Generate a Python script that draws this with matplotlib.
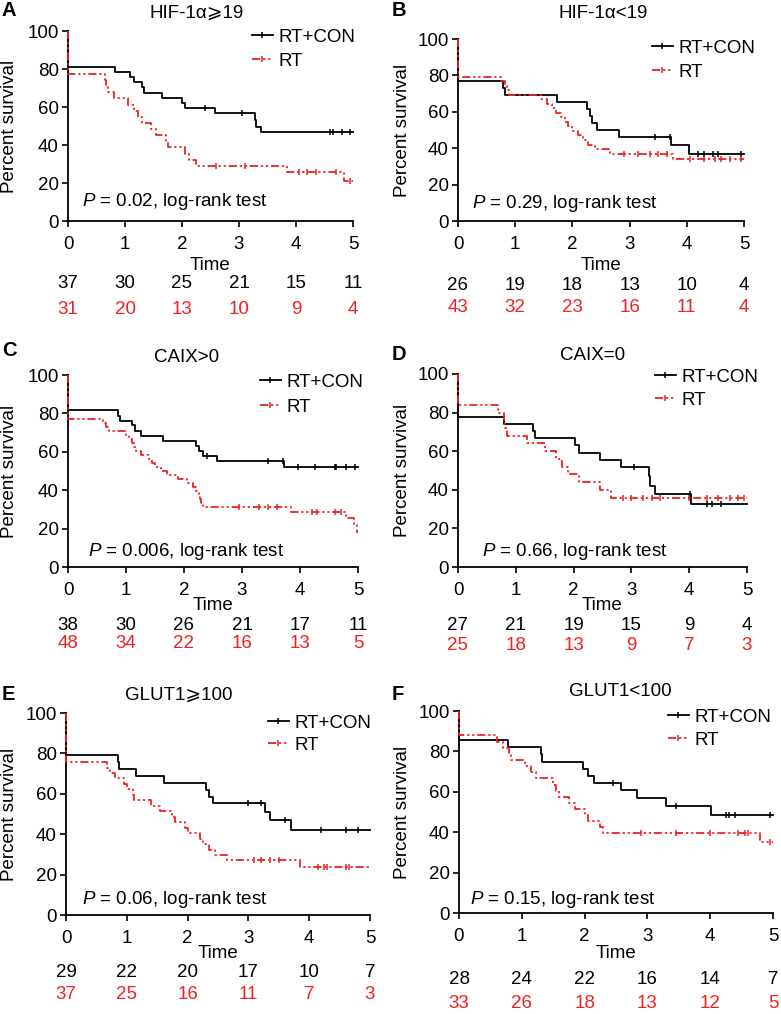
import numpy as np
import matplotlib
matplotlib.use('Agg')
import matplotlib.pyplot as plt
from matplotlib.lines import Line2D

plt.rcParams['font.family'] = ['Liberation Sans', 'DejaVu Sans']
plt.rcParams['mathtext.fontset'] = 'custom'
plt.rcParams['mathtext.it'] = 'Liberation Sans:italic'
plt.rcParams['mathtext.rm'] = 'Liberation Sans'

W, H = 781, 1014
RED = '#ee2222'
FS = 13.5
RT_DASH = (4.5, 1.6, 1.2, 1.6, 1.2, 1.6)

# ---- Kaplan-Meier steps (time in years, survival %) ----
# A: HIF-1a >= 19
A_con_t = [0, 0.83, 1.08, 1.15, 1.3, 1.33, 1.65, 2.0, 2.05, 2.58, 3.28, 3.3, 3.38]
A_con_s = [81.1, 78.4, 75.7, 73.0, 70.3, 67.6, 64.9, 62.2, 59.5, 56.8, 53.0, 49.6, 47.1]
A_con_c = [2.4, 3.05, 4.6, 4.65, 4.8, 4.95]
A_rt_t = [0, 0.65, 0.67, 0.7, 0.8, 1.05, 1.15, 1.22, 1.3, 1.45, 1.55, 1.72, 1.75, 2.05, 2.12, 2.25, 3.85, 4.85]
A_rt_s = [77.4, 74.2, 71.0, 67.7, 64.5, 61.3, 58.1, 54.8, 51.6, 48.4, 45.2, 41.9, 38.7, 35.5, 32.3, 29.0, 25.8, 21.0]
A_rt_c = [2.6, 3.1, 4.05, 4.2, 4.35, 4.7, 4.95]

# B: HIF-1a < 19
B_con_t = [0, 0.78, 0.82, 1.73, 2.25, 2.3, 2.35, 2.43, 2.82, 3.72, 4.03]
B_con_s = [76.9, 73.1, 69.2, 65.4, 61.5, 57.7, 53.8, 50.0, 46.2, 41.5, 36.9]
B_con_c = [3.45, 3.7, 4.2, 4.3, 4.45, 4.55, 4.95]
B_rt_t = [0, 0.75, 0.82, 0.85, 0.9, 1.45, 1.55, 1.65, 1.72, 1.8, 1.87, 1.93, 2.0, 2.1, 2.18, 2.28, 2.4, 2.65, 3.75]
B_rt_s = [79.1, 76.7, 74.3, 71.9, 69.5, 67.0, 64.5, 62.0, 59.5, 57.0, 54.5, 52.0, 49.5, 47.0, 44.5, 42.0, 39.5, 37.0, 33.9]
B_rt_c = [2.9, 3.15, 3.35, 3.5, 3.65, 4.05, 4.3, 4.5, 4.6, 4.75, 4.95]

# C: CAIX > 0
C_con_t = [0, 0.87, 0.9, 1.1, 1.15, 1.25, 1.63, 2.2, 2.25, 2.33, 2.57, 3.72]
C_con_s = [81.6, 78.9, 76.3, 73.7, 71.0, 68.4, 65.8, 63.2, 60.5, 57.9, 55.3, 52.0]
C_con_c = [2.4, 3.45, 3.7, 3.97, 4.25, 4.6, 4.62, 4.8, 4.95]
C_rt_t = [0, 0.6, 0.65, 0.7, 1.0, 1.05, 1.1, 1.13, 1.17, 1.25, 1.4, 1.45, 1.5, 1.6, 1.7, 1.9,
          2.05, 2.15, 2.2, 2.25, 2.28, 2.3, 2.33, 3.85, 4.8, 4.93, 4.99]
C_rt_s = [77.1, 75.0, 72.9, 70.8, 68.7, 66.6, 64.5, 62.5, 60.4, 58.3, 56.2, 54.1, 52.0, 50.0, 47.9, 45.8,
          43.7, 41.6, 39.5, 37.5, 35.4, 33.3, 31.2, 28.8, 25.5, 22.0, 18.3]
C_rt_c = [2.95, 3.3, 3.45, 3.6, 4.2, 4.3, 4.6, 4.7]

# D: CAIX = 0
D_con_t = [0, 0.8, 1.3, 1.33, 2.02, 2.1, 2.45, 2.82, 3.3, 3.33, 3.4, 4.03]
D_con_s = [77.8, 74.1, 70.4, 66.7, 63.0, 59.3, 55.6, 51.9, 47.0, 42.1, 37.8, 32.4]
D_con_c = [3.05, 4.02, 4.3, 4.4, 4.55]
D_rt_t = [0, 0.7, 0.8, 0.82, 0.85, 1.2, 1.5, 1.7, 1.8, 1.9, 2.1, 2.45, 2.65]
D_rt_s = [84.0, 80.0, 76.0, 72.0, 68.0, 64.0, 60.0, 56.0, 52.0, 48.0, 44.0, 40.0, 36.0]
D_rt_c = [2.85, 3.0, 3.2, 3.35, 3.5, 4.0, 4.3, 4.5, 4.7, 4.85, 4.95]

# E: GLUT1 >= 100
E_con_t = [0, 0.85, 0.87, 1.15, 1.62, 2.3, 2.35, 2.42, 3.28, 3.35, 3.7]
E_con_s = [79.3, 75.9, 72.4, 69.0, 65.5, 62.1, 58.6, 55.2, 51.2, 47.2, 42.0]
E_con_c = [3.0, 3.2, 3.6, 4.2, 4.6, 4.8]
E_rt_t = [0, 0.68, 0.72, 0.8, 0.95, 1.0, 1.1, 1.12, 1.4, 1.55, 1.75, 1.8, 1.95, 2.0, 2.2, 2.25, 2.35, 2.45, 2.65, 3.85]
E_rt_s = [75.7, 73.0, 70.3, 67.6, 64.9, 62.2, 59.5, 56.8, 54.1, 51.4, 48.6, 45.9, 43.2, 40.5, 37.8, 35.1, 32.4, 29.7, 27.0, 23.6]
E_rt_c = [3.1, 3.2, 3.35, 3.5, 4.15, 4.25, 4.3, 4.6, 4.65]

# F: GLUT1 < 100
F_con_t = [0, 0.78, 1.3, 1.32, 1.98, 2.05, 2.15, 2.58, 2.83, 3.3, 4.02]
F_con_s = [85.7, 82.1, 78.6, 75.0, 71.4, 67.9, 64.3, 60.7, 57.1, 53.1, 48.6]
F_con_c = [2.45, 3.45, 4.25, 4.3, 4.4, 4.95]
F_rt_t = [0, 0.6, 0.7, 0.8, 0.83, 1.05, 1.15, 1.22, 1.5, 1.55, 1.6, 1.75, 1.85, 2.0, 2.05, 2.25, 2.3, 4.8]
F_rt_s = [87.9, 84.8, 81.8, 78.8, 75.8, 72.7, 69.7, 66.7, 63.6, 60.6, 57.6, 54.5, 51.5, 48.5, 45.5, 42.4, 39.4, 35.0]
F_rt_c = [2.9, 3.45, 4.0, 4.45, 4.55, 4.6, 4.95]

# numbers at risk at 0..5 years
risk_times = [0, 1, 2, 3, 4, 5]
A_risk_con = [37, 30, 25, 21, 15, 11]
A_risk_rt = [31, 20, 13, 10, 9, 4]
B_risk_con = [26, 19, 18, 13, 10, 4]
B_risk_rt = [43, 32, 23, 16, 11, 4]
C_risk_con = [38, 30, 26, 21, 17, 11]
C_risk_rt = [48, 34, 22, 16, 13, 5]
D_risk_con = [27, 21, 19, 15, 9, 4]
D_risk_rt = [25, 18, 13, 9, 7, 3]
E_risk_con = [29, 22, 20, 17, 10, 7]
E_risk_rt = [37, 25, 16, 11, 7, 3]
F_risk_con = [28, 24, 22, 16, 14, 7]
F_risk_rt = [33, 26, 18, 13, 12, 5]

letters = ['A', 'B', 'C', 'D', 'E', 'F']
titles = ['HIF-1α⩾19', 'HIF-1α<19', 'CAIX>0', 'CAIX=0', 'GLUT1⩾100', 'GLUT1<100']
pvals = ['0.02', '0.29', '0.006', '0.66', '0.06', '0.15']

curves = {
    'A': (A_con_t, A_con_s, A_con_c, A_rt_t, A_rt_s, A_rt_c, A_risk_con, A_risk_rt),
    'B': (B_con_t, B_con_s, B_con_c, B_rt_t, B_rt_s, B_rt_c, B_risk_con, B_risk_rt),
    'C': (C_con_t, C_con_s, C_con_c, C_rt_t, C_rt_s, C_rt_c, C_risk_con, C_risk_rt),
    'D': (D_con_t, D_con_s, D_con_c, D_rt_t, D_rt_s, D_rt_c, D_risk_con, D_risk_rt),
    'E': (E_con_t, E_con_s, E_con_c, E_rt_t, E_rt_s, E_rt_c, E_risk_con, E_risk_rt),
    'F': (F_con_t, F_con_s, F_con_c, F_rt_t, F_rt_s, F_rt_c, F_risk_con, F_risk_rt),
}

# layout in pixels: axes box (l, t, r, b), title xy, letter xy, ylabel x,
# legend (handle x, row1 y, row2 y), P-text xy, row offsets below axes
layout = {
    'A': dict(box=(68, 31, 353, 221), title=(197, 13), letter=(2, 10), ylab=10,
              leg=(252, 37, 61), p=(82, 202), rows=(44, 62, 89)),
    'B': dict(box=(458, 39, 744, 221), title=(603, 13), letter=(392, 10), ylab=402,
              leg=(652, 48, 72), p=(472, 203), rows=(44, 64, 87)),
    'C': dict(box=(68, 375, 358, 567), title=(187, 357), letter=(2, 351), ylab=10,
              leg=(260, 382, 407), p=(88, 552), rows=(39, 58, 76)),
    'D': dict(box=(458, 374, 747, 567), title=(593, 356), letter=(392, 355), ylab=402,
              leg=(655, 377, 400), p=(482, 552), rows=(39, 59, 79)),
    'E': dict(box=(66, 713, 370, 915), title=(179, 695), letter=(2, 694), ylab=10,
              leg=(268, 723, 745), p=(82, 900), rows=(38, 58, 80)),
    'F': dict(box=(459, 711, 773, 913), title=(620, 692), letter=(392, 695), ylab=402,
              leg=(668, 717, 740), p=(470, 900), rows=(40, 67, 90)),
}


def fx(x):
    return x / W


def fy(y):
    return 1 - y / H


def surv_at(ct, t, s):
    idx = np.searchsorted(t, ct, side='right') - 1
    return np.asarray(s)[idx]


fig = plt.figure(figsize=(W / 100, H / 100), dpi=100)

for i, key in enumerate(letters):
    L = layout[key]
    con_t, con_s, con_c, rt_t, rt_s, rt_c, risk_con, risk_rt = curves[key]
    l, t, r, b = L['box']
    ax = fig.add_axes([fx(l), fy(b), (r - l) / W, (b - t) / H])

    # RT+CON (black solid)
    ax.step(np.r_[0, con_t, 5], np.r_[100, con_s, con_s[-1]], where='post',
            color='black', lw=1.3, clip_on=False, zorder=3)
    ax.plot(con_c, surv_at(con_c, con_t, con_s), ls='none', marker='|',
            ms=5, mew=1.1, color='black', clip_on=False, zorder=3)
    # RT (red dash-dot-dot)
    ax.step(np.r_[0, rt_t, 5], np.r_[100, rt_s, rt_s[-1]], where='post',
            color=RED, lw=1.3, dashes=RT_DASH, clip_on=False, zorder=4)
    ax.plot(rt_c, surv_at(rt_c, rt_t, rt_s), ls='none', marker='|',
            ms=5, mew=1.1, color=RED, clip_on=False, zorder=4)

    ax.set_xlim(0, 5)
    ax.set_ylim(0, 100)
    ax.set_xticks(risk_times)
    ax.set_yticks([0, 20, 40, 60, 80, 100])
    for sp in ['top', 'right']:
        ax.spines[sp].set_visible(False)
    for sp in ['left', 'bottom']:
        ax.spines[sp].set_linewidth(1.3)
    ax.tick_params(direction='out', length=4.5, width=1.2, labelsize=FS, pad=2)
    ax.tick_params(axis='x', pad=6)

    # legend, one row at a time so the row positions can be matched
    lx, ly1, ly2 = L['leg']
    h_con = Line2D([], [], color='black', lw=1.3, marker='|', ms=5, mew=1.1)
    h_rt = Line2D([], [], color=RED, lw=1.3, dashes=RT_DASH, marker='|', ms=5, mew=1.1)
    for h, lab, yy in [(h_con, 'RT+CON', ly1), (h_rt, 'RT', ly2)]:
        fig.legend([h], [lab], loc='center left', bbox_to_anchor=(fx(lx), fy(yy)),
                   frameon=False, fontsize=FS, numpoints=1, handlelength=1.1,
                   handletextpad=0.3, borderpad=0, borderaxespad=0)

    # texts
    fig.text(fx(L['title'][0]), fy(L['title'][1]), titles[i], ha='center', va='center', fontsize=FS)
    fig.text(fx(L['letter'][0]), fy(L['letter'][1]), key, ha='left', va='center',
             fontsize=FS + 1, fontweight='bold')
    fig.text(fx(L['ylab']), fy((t + b) / 2), 'Percent survival', rotation=90,
             ha='center', va='center', fontsize=FS)
    fig.text(fx(L['p'][0]), fy(L['p'][1]), '$P$ = ' + pvals[i] + ', log-rank test',
             ha='left', va='center', fontsize=FS)

    # Time label + numbers at risk
    off_time, off_con, off_rt = L['rows']
    ax.annotate('Time', xy=(0.5, 0), xycoords='axes fraction', xytext=(0, -off_time * 0.72),
                textcoords='offset points', ha='center', va='center', fontsize=FS)
    for xt, nc, nr in zip(risk_times, risk_con, risk_rt):
        ax.annotate(str(nc), xy=(xt, 0), xycoords=('data', 'axes fraction'),
                    xytext=(0, -off_con * 0.72), textcoords='offset points',
                    ha='center', va='center', fontsize=FS, color='black', annotation_clip=False)
        ax.annotate(str(nr), xy=(xt, 0), xycoords=('data', 'axes fraction'),
                    xytext=(0, -off_rt * 0.72), textcoords='offset points',
                    ha='center', va='center', fontsize=FS, color=RED, annotation_clip=False)

fig.savefig('out.png', dpi=100)
